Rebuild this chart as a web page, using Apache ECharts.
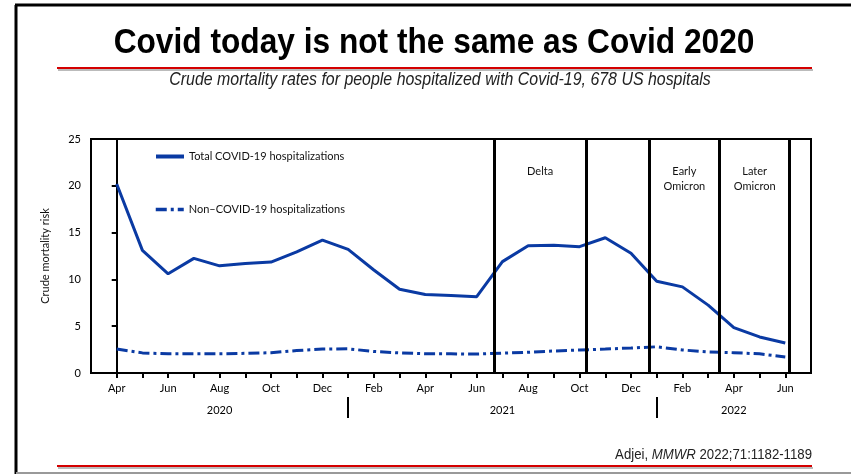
<!DOCTYPE html>
<html>
<head>
<meta charset="utf-8">
<script src="https://cdn.jsdelivr.net/npm/echarts@6/dist/echarts.min.js"></script>
<style>
  html, body { margin: 0; padding: 0; background: #fff; }
  #chart { width: 851px; height: 474px; }
</style>
</head>
<body>
<div id="chart"></div>
<script>
// months Apr 2020 .. Jun 2022 (index 0..26)
const months = ['Apr', 'May', 'Jun', 'Jul', 'Aug', 'Sep', 'Oct', 'Nov', 'Dec',
  'Jan', 'Feb', 'Mar', 'Apr', 'May', 'Jun', 'Jul', 'Aug', 'Sep', 'Oct', 'Nov', 'Dec',
  'Jan', 'Feb', 'Mar', 'Apr', 'May', 'Jun']
const totalCovid = [20.2, 13.1, 10.6, 12.25, 11.45, 11.7, 11.85, 12.95, 14.2, 13.2, 11.0, 8.95, 8.38,
  8.28, 8.15, 11.9, 13.6, 13.65, 13.5, 14.45, 12.8, 9.8, 9.2, 7.25, 4.85, 3.85, 3.2]
const nonCovid = [2.56, 2.15, 2.05, 2.05, 2.05, 2.1, 2.17, 2.4, 2.56, 2.58, 2.3, 2.15, 2.05,
  2.05, 2.02, 2.12, 2.22, 2.35, 2.46, 2.56, 2.67, 2.8, 2.46, 2.25, 2.17, 2.05, 1.72]
const yTicks = [0, 5, 10, 15, 20, 25]
const yearLabels = ['2020', '2021', '2022']
const yearCenters = [4, 15, 24]
const yearBreaks = [9, 21]
const variantBounds = [14.68, 18.25, 20.7, 23.45, 26.17]
const variantNames = ['Delta', 'Early\nOmicron', 'Later\nOmicron']
const variantSpans = [[14.68, 18.25], [20.7, 23.45], [23.45, 26.17]]

const blue = '#0a3aa3'
const axisFont = 'Lato, "Open Sans", sans-serif'
const headFont = '"Liberation Sans", Arial, sans-serif'

const chart = echarts.init(document.getElementById('chart'))

const monthTicks = months.map((m, i) => i)
const monthLabelAt = monthTicks.filter(i => i % 2 === 0)

const option = {
  animation: false,
  backgroundColor: '#fff',
  graphic: [
    // frame
    { type: 'line', shape: { x1: 15, y1: 5, x2: 851, y2: 5 }, style: { stroke: '#000', lineWidth: 3 } },
    { type: 'line', shape: { x1: 16, y1: 5, x2: 16, y2: 474 }, style: { stroke: '#000', lineWidth: 3 } },
    { type: 'line', shape: { x1: 16, y1: 473, x2: 851, y2: 473 }, style: { stroke: '#999', lineWidth: 2 } },
    // red rules
    { type: 'line', shape: { x1: 58, y1: 70, x2: 813, y2: 70 }, style: { stroke: '#bbb', lineWidth: 2 } },
    { type: 'line', shape: { x1: 57, y1: 68, x2: 812, y2: 68 }, style: { stroke: '#d40000', lineWidth: 2 } },
    { type: 'line', shape: { x1: 58, y1: 468, x2: 813, y2: 468 }, style: { stroke: '#bbb', lineWidth: 2 } },
    { type: 'line', shape: { x1: 57, y1: 466, x2: 812, y2: 466 }, style: { stroke: '#d40000', lineWidth: 2 } },
    {
      type: 'text', x: 434, y: 43, scaleX: 0.905,
      style: {
        text: 'Covid today is not the same as Covid 2020',
        fontFamily: headFont,
        fontWeight: 'bold', fontSize: 35, fill: '#000', align: 'center', verticalAlign: 'middle'
      }
    },
    {
      type: 'text', x: 440, y: 80, scaleX: 0.9,
      style: {
        text: 'Crude mortality rates for people hospitalized with Covid-19, 678 US hospitals',
        fontFamily: headFont,
        fontStyle: 'italic', fontSize: 17.7, fill: '#222', align: 'center', verticalAlign: 'middle'
      }
    },
    {
      type: 'text', x: 812, y: 455, scaleX: 0.88, originX: 0,
      style: {
        rich: {
          n: { fontFamily: headFont, fontSize: 15, fill: '#222' },
          i: { fontFamily: headFont, fontSize: 15, fontStyle: 'italic', fill: '#222' }
        },
        text: '{n|Adjei, }{i|MMWR}{n| 2022;71:1182-1189}',
        align: 'right', verticalAlign: 'middle'
      }
    }
  ],
  legend: [
    {
      left: 154, top: 151, padding: 0, itemWidth: 28, itemHeight: 12,
      itemStyle: { opacity: 0 },
      lineStyle: { width: 4 },
      data: ['Total COVID-19 hospitalizations'],
      textStyle: { fontFamily: axisFont, fontSize: 11, color: '#111' }
    },
    {
      left: 154, top: 204, padding: 0, itemWidth: 28, itemHeight: 12,
      itemStyle: { opacity: 0 },
      lineStyle: { width: 3.5 },
      data: ['Non\u2013COVID-19 hospitalizations'],
      textStyle: { fontFamily: axisFont, fontSize: 11, color: '#111' }
    }
  ],
  grid: {
    left: 91, right: 40, top: 139, bottom: 101,
    show: true, borderColor: '#000', borderWidth: 2, backgroundColor: 'transparent'
  },
  xAxis: [
    {
      type: 'value', min: -1, max: 27, interval: 1,
      splitLine: { show: false },
      axisLine: { lineStyle: { color: '#000', width: 2 } },
      axisTick: { length: 5, customValues: monthTicks, lineStyle: { color: '#000', width: 2 } },
      axisLabel: {
        margin: 10, fontFamily: axisFont, fontSize: 11, color: '#000',
        customValues: monthLabelAt,
        formatter: v => months[v]
      }
    },
    {
      type: 'value', min: -1, max: 27, interval: 1, position: 'bottom', offset: 24,
      splitLine: { show: false }, axisLine: { show: false },
      axisTick: { show: true, length: 21, customValues: yearBreaks, lineStyle: { color: '#000', width: 2 } },
      axisLabel: {
        margin: 8, fontFamily: axisFont, fontSize: 11, color: '#000',
        customValues: yearCenters,
        formatter: v => yearLabels[yearCenters.indexOf(v)]
      }
    }
  ],
  yAxis: {
    type: 'value', min: yTicks[0], max: yTicks[yTicks.length - 1], interval: 5,
    name: 'Crude mortality risk', nameLocation: 'middle', nameGap: 40,
    nameTextStyle: { fontFamily: axisFont, fontSize: 11, color: '#111' },
    splitLine: { show: false },
    axisLine: { show: true, lineStyle: { color: '#000', width: 2 } },
    axisTick: { show: true, length: 5, lineStyle: { color: '#000', width: 2 } },
    axisLabel: { margin: 10, fontFamily: axisFont, fontSize: 11, color: '#000' }
  },
  series: [
    {
      name: 'Total COVID-19 hospitalizations',
      type: 'line', symbol: 'none', z: 3,
      data: totalCovid.map((v, i) => [i, v]),
      lineStyle: { color: blue, width: 3 },
      itemStyle: { color: blue },
      markLine: {
        silent: true, symbol: 'none', label: { show: false },
        lineStyle: { color: '#000', width: 3, type: 'solid' },
        data: variantBounds.map(x => ({ xAxis: x }))
      },
      markArea: {
        silent: true,
        itemStyle: { color: 'rgba(0,0,0,0)' },
        label: {
          position: 'insideTop', distance: 25, fontFamily: axisFont, fontSize: 11,
          color: '#111', lineHeight: 15, align: 'center'
        },
        data: variantSpans.map((s, k) => [{ xAxis: s[0], name: variantNames[k] }, { xAxis: s[1] }])
      }
    },
    {
      name: 'Non\u2013COVID-19 hospitalizations',
      type: 'line', symbol: 'none', z: 3,
      data: nonCovid.map((v, i) => [i, v]),
      lineStyle: { color: blue, width: 3, type: [11, 4, 3, 4] },
      itemStyle: { color: blue }
    }
  ]
}

chart.setOption(option)
</script>
</body>
</html>
